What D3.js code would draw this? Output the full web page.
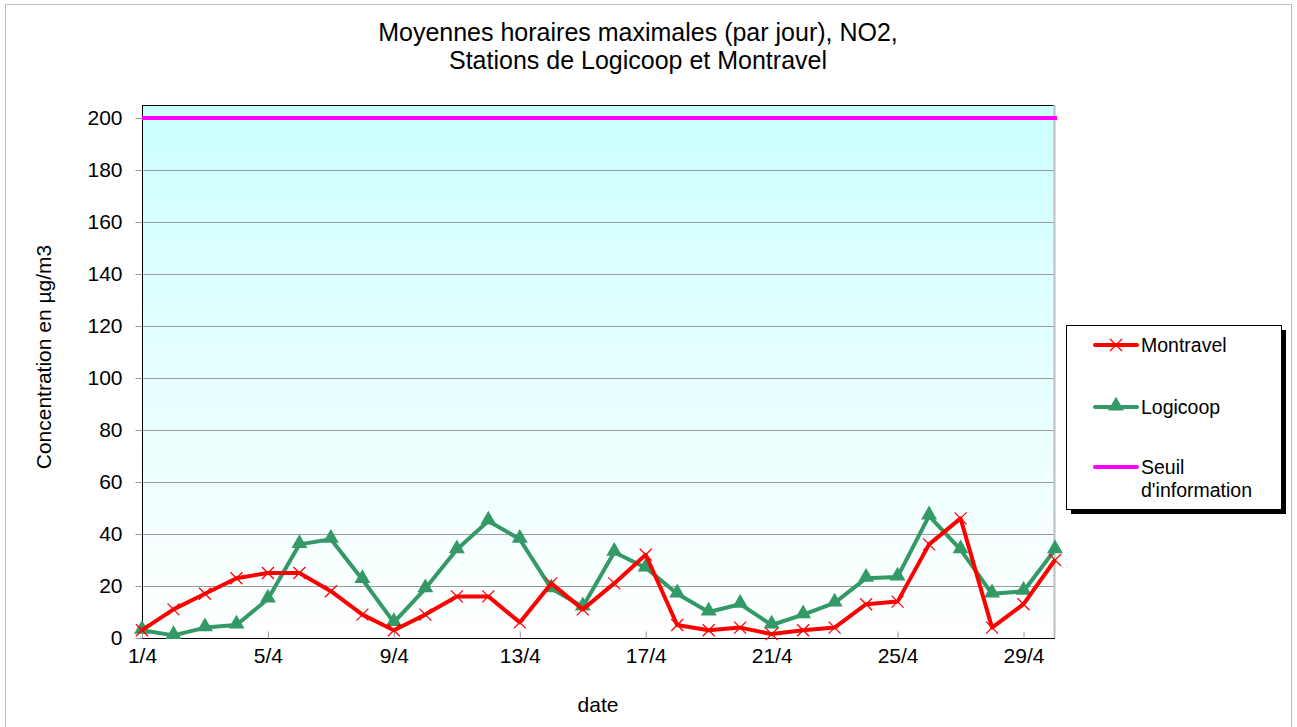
<!DOCTYPE html>
<html>
<head>
<meta charset="utf-8">
<script src="https://cdn.jsdelivr.net/npm/d3@7"></script>
<style>
  body { margin: 0; background: #fff; }
  svg { font-family: "Liberation Sans", Arial, sans-serif; }
</style>
</head>
<body>
<svg id="chart" width="1297" height="727"></svg>
<script>
// days of April
var days = d3.range(1, 31);
var montravel = [3, 11, 17, 23, 25, 25, 18, 9, 3, 9, 16, 16, 6, 21, 11, 21, 32, 5, 3, 4, 1.5, 3, 4, 13, 14, 36, 46, 4, 13, 30];
var logicoop = [3, 1, 4, 5, 15, 36, 38, 22.5, 6, 19, 34, 45, 38, 19, 12, 33, 27, 17, 10, 13, 5, 9, 13.5, 23, 23.5, 47, 34, 17, 18, 34];
var seuil = 200;
var yTicks = [0, 20, 40, 60, 80, 100, 120, 140, 160, 180, 200];
var xTicks = [1, 5, 9, 13, 17, 21, 25, 29];

var svg = d3.select("#chart");
var margin = {left: 142, right: 1055, top: 105, bottom: 638};
var font = "Liberation Sans, Arial, sans-serif";

var x = d3.scaleLinear().domain([1, 30]).range([margin.left, margin.right]);
var y = d3.scaleLinear().domain([0, 205]).range([margin.bottom, margin.top]);

// outer frame
svg.append("rect").attr("x", 5.5).attr("y", 4.5).attr("width", 1286).attr("height", 730)
  .attr("fill", "#fff").attr("stroke", "#bdbdbd");

// background gradient
var defs = svg.append("defs");
var grad = defs.append("linearGradient").attr("id", "bg").attr("x1", 0).attr("y1", 0).attr("x2", 0).attr("y2", 1);
grad.append("stop").attr("offset", "0%").attr("stop-color", "#ccffff");
grad.append("stop").attr("offset", "100%").attr("stop-color", "#ffffff");

svg.append("rect")
  .attr("x", margin.left).attr("y", margin.top)
  .attr("width", margin.right - margin.left).attr("height", margin.bottom - margin.top)
  .attr("fill", "url(#bg)");

// gridlines
svg.append("g").selectAll("line")
  .data(yTicks.filter(function(d) { return d > 0 && d < 200; }))
  .enter().append("line")
  .attr("x1", margin.left).attr("x2", margin.right)
  .attr("y1", function(d) { return y(d) + 0.5; })
  .attr("y2", function(d) { return y(d) + 0.5; })
  .attr("stroke", "#9a9a9a").attr("stroke-width", 1);

// borders: top black, right grey
svg.append("line").attr("x1", margin.left).attr("x2", margin.right)
  .attr("y1", margin.top + 0.5).attr("y2", margin.top + 0.5).attr("stroke", "#000");
svg.append("line").attr("x1", margin.right - 0.5).attr("x2", margin.right - 0.5)
  .attr("y1", margin.top).attr("y2", margin.bottom).attr("stroke", "#bdbdbd").attr("stroke-width", 2);

// y axis
var yAxis = svg.append("g").attr("transform", "translate(" + (margin.left + 0.5) + ",0)")
  .call(d3.axisLeft(y).tickValues(yTicks).tickSize(7).tickPadding(13));
yAxis.select(".domain").attr("stroke", "#000").attr("d", "M0," + margin.top + "V" + margin.bottom);
yAxis.selectAll(".tick line").attr("stroke", "#999");
yAxis.selectAll("text").attr("font-size", 21).attr("fill", "#000").attr("font-family", font);

// x axis
var xAxis = svg.append("g").attr("transform", "translate(0," + (margin.bottom + 0.5) + ")")
  .call(d3.axisBottom(x).tickValues(xTicks).tickFormat(function(d) { return d + "/4"; }).tickSize(-7).tickPadding(10));
xAxis.select(".domain").attr("stroke", "#000").attr("d", "M" + margin.left + ",0H" + margin.right);
xAxis.selectAll(".tick line").attr("stroke", "#999");
xAxis.selectAll("text").attr("font-size", 21).attr("fill", "#000").attr("font-family", font);

// threshold line
svg.append("line")
  .attr("x1", margin.left).attr("x2", margin.right + 2)
  .attr("y1", y(seuil)).attr("y2", y(seuil))
  .attr("stroke", "#ff00ff").attr("stroke-width", 4);

var line = d3.line()
  .x(function(d, i) { return x(days[i]); })
  .y(function(d) { return y(d); });

// Logicoop
svg.append("path").datum(logicoop).attr("d", line)
  .attr("fill", "none").attr("stroke", "#339966").attr("stroke-width", 4).attr("stroke-linejoin", "round");
var tri = d3.symbol().type(d3.symbolTriangle).size(110);
svg.append("g").selectAll("path").data(logicoop).enter().append("path")
  .attr("d", tri)
  .attr("transform", function(d, i) { return "translate(" + x(days[i]) + "," + (y(d) - 1) + ")"; })
  .attr("fill", "#339966");

// Montravel
svg.append("path").datum(montravel).attr("d", line)
  .attr("fill", "none").attr("stroke", "#ff0000").attr("stroke-width", 4).attr("stroke-linejoin", "round");
svg.append("g").selectAll("path").data(montravel).enter().append("path")
  .attr("d", "M-6,-6L6,6M-6,6L6,-6")
  .attr("transform", function(d, i) { return "translate(" + x(days[i]) + "," + y(d) + ")"; })
  .attr("stroke", "#ff0000").attr("stroke-width", 1.3).attr("fill", "none");

// title
var title = svg.append("text").attr("text-anchor", "middle").attr("font-size", 25).attr("fill", "#000");
title.append("tspan").attr("x", 638).attr("y", 41).text("Moyennes horaires maximales (par jour), NO2,");
title.append("tspan").attr("x", 638).attr("y", 69).text("Stations de Logicoop et Montravel");

// axis titles
svg.append("text").attr("x", 598).attr("y", 712).attr("text-anchor", "middle")
  .attr("font-size", 21).text("date");
svg.append("text").attr("transform", "translate(51,357) rotate(-90)").attr("text-anchor", "middle")
  .attr("font-size", 21).text("Concentration en µg/m3");

// legend
var legend = svg.append("g");
legend.append("rect").attr("x", 1071).attr("y", 330).attr("width", 215).attr("height", 184).attr("fill", "#000");
legend.append("rect").attr("x", 1066.5).attr("y", 325.5).attr("width", 215).attr("height", 184)
  .attr("fill", "#fff").attr("stroke", "#000");

var legendItems = [
  {name: ["Montravel"], color: "#ff0000", mark: "x", y: 345},
  {name: ["Logicoop"], color: "#339966", mark: "tri", y: 407},
  {name: ["Seuil", "d'information"], color: "#ff00ff", mark: null, y: 467}
];
legendItems.forEach(function(it) {
  legend.append("line").attr("x1", 1095).attr("x2", 1137).attr("y1", it.y).attr("y2", it.y)
    .attr("stroke", it.color).attr("stroke-width", 4).attr("stroke-linecap", "round");
  if (it.mark === "x") {
    legend.append("path").attr("d", "M-6,-6L6,6M-6,6L6,-6")
      .attr("transform", "translate(1116," + it.y + ")")
      .attr("stroke", it.color).attr("stroke-width", 1.3);
  } else if (it.mark === "tri") {
    legend.append("path").attr("d", tri)
      .attr("transform", "translate(1116," + (it.y - 1) + ")").attr("fill", it.color);
  }
  var t = legend.append("text").attr("font-size", 19.5).attr("fill", "#000");
  it.name.forEach(function(s, k) {
    t.append("tspan").attr("x", 1141).attr("y", it.y + 7 + k * 23).text(s);
  });
});
</script>
</body>
</html>
